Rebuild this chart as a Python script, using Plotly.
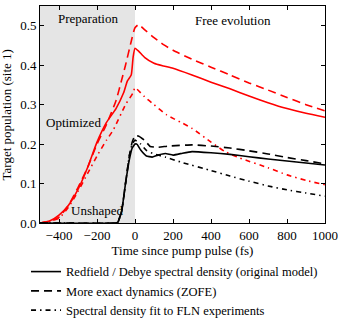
import plotly.graph_objects as go

# optimized pulse (red)
t_red_solid = [-500, -450, -400, -350, -300, -250, -200, -150, -100, -60, -40, -20, -10, 0,
               20, 50, 100, 150, 200, 300, 400, 500, 600, 700, 800, 900, 1000]
p_red_solid = [0, 0.005, 0.02, 0.045, 0.085, 0.14, 0.205, 0.255, 0.29, 0.33, 0.36, 0.375, 0.42, 0.443,
               0.435, 0.42, 0.405, 0.398, 0.392, 0.375, 0.357, 0.34, 0.322, 0.305, 0.29, 0.278, 0.268]

t_red_dash = [-500, -450, -400, -350, -300, -250, -200, -150, -100, -70, -50, -20, 0, 20,
              50, 100, 150, 200, 300, 400, 500, 600, 700, 800, 900, 1000]
p_red_dash = [0, 0.004, 0.015, 0.045, 0.09, 0.14, 0.2, 0.25, 0.31, 0.363, 0.4, 0.46, 0.495, 0.503,
              0.49, 0.47, 0.452, 0.438, 0.415, 0.395, 0.375, 0.355, 0.337, 0.318, 0.3, 0.284]

t_red_dd = [-500, -450, -400, -350, -300, -250, -200, -150, -114, -50, -10, 0,
            50, 100, 167, 250, 300, 400, 474, 550, 700, 800, 900, 1000]
p_red_dd = [0, 0.004, 0.012, 0.04, 0.08, 0.125, 0.17, 0.21, 0.236, 0.3, 0.33, 0.343,
            0.32, 0.3, 0.274, 0.253, 0.24, 0.205, 0.181, 0.165, 0.14, 0.122, 0.108, 0.097]

# unshaped pulse (black)
t_blk_solid = [-500, -100, -90, -70, -50, -30, -15, 0, 10, 30, 60, 90, 120, 160, 200, 250,
               300, 400, 500, 600, 700, 800, 900, 1000]
p_blk_solid = [0, 0, 0.002, 0.03, 0.1, 0.16, 0.19, 0.2, 0.2, 0.185, 0.17, 0.167, 0.172, 0.176, 0.172, 0.177,
               0.181, 0.178, 0.174, 0.168, 0.162, 0.157, 0.152, 0.147]

t_blk_dash = [-500, -100, -90, -70, -50, -30, -15, 0, 20, 50, 80, 120, 175,
              300, 400, 500, 600, 700, 800, 900, 1000]
p_blk_dash = [0, 0, 0.002, 0.03, 0.1, 0.17, 0.205, 0.222, 0.22, 0.21, 0.194, 0.192, 0.195,
              0.198, 0.195, 0.19, 0.183, 0.175, 0.166, 0.158, 0.15]

t_blk_dd = [-500, -100, -90, -70, -50, -30, -15, 0, 30, 60, 100, 160, 250,
            400, 500, 600, 700, 800, 900, 1000]
p_blk_dd = [0, 0, 0.002, 0.03, 0.1, 0.17, 0.2, 0.21, 0.2, 0.184, 0.175, 0.167, 0.153,
            0.133, 0.119, 0.106, 0.094, 0.084, 0.076, 0.068]

legend_names = ["Redfield / Debye spectral density (original model)",
                "More exact dynamics (ZOFE)",
                "Spectral density fit to FLN experiments"]

DASH = "8px,5px"
DASHDOT = "5px,4px,1.5px,4px"
W = 1.6

fig = go.Figure()

curves = [
    (t_red_solid, p_red_solid, "red", "solid", 0.5),
    (t_red_dash, p_red_dash, "red", DASH, 0.5),
    (t_red_dd, p_red_dd, "red", DASHDOT, 0.5),
    (t_blk_solid, p_blk_solid, "black", "solid", 0.3),
    (t_blk_dash, p_blk_dash, "black", DASH, 0.3),
    (t_blk_dd, p_blk_dd, "black", DASHDOT, 0.3),
]
for t, p, c, d, sm in curves:
    fig.add_trace(go.Scatter(x=t, y=p, mode="lines", showlegend=False,
                             line=dict(color=c, dash=d, width=W, shape="spline", smoothing=sm)))

# legend-only entries
for name, d in zip(legend_names, ["solid", DASH, DASHDOT]):
    fig.add_trace(go.Scatter(x=[None], y=[None], mode="lines", name=name,
                             line=dict(color="black", dash=d, width=W)))

fig.add_shape(type="rect", xref="x", yref="paper", x0=-500, x1=0, y0=0, y1=1,
              fillcolor="#e5e5e5", line_width=0, layer="below")

txt = dict(family="Liberation Serif", size=13, color="black")
fig.add_annotation(x=-250, y=0.518, text="Preparation", showarrow=False, font=txt)
fig.add_annotation(x=515, y=0.512, text="Free evolution", showarrow=False, font=txt)
fig.add_annotation(x=-326, y=0.256, text="Optimized", showarrow=False, font=txt)
fig.add_annotation(x=-200, y=0.032, text="Unshaped", showarrow=False, font=txt)
# y-axis title
fig.add_annotation(xref="paper", yref="paper", x=-0.116, y=0.5, textangle=-90,
                   text="Target population (site 1)", showarrow=False, font=txt,
                   xanchor="center", yanchor="middle")

axis_common = dict(showgrid=False, zeroline=False, ticks="inside", ticklen=4,
                   mirror="ticks", showline=True, linecolor="black", linewidth=1,
                   tickcolor="black", tickfont=txt, automargin=False)

fig.update_layout(
    width=338, height=320,
    margin=dict(l=40, r=13, t=6, b=97, autoexpand=False),
    plot_bgcolor="white", paper_bgcolor="white",
    font=txt,
    xaxis=dict(range=[-500, 1000], tickvals=[-400, -200, 0, 200, 400, 600, 800, 1000],
               title=dict(text="Time since pump pulse (fs)", standoff=2, font=txt),
               **axis_common),
    yaxis=dict(range=[0, 0.55], tickvals=[0, 0.1, 0.2, 0.3, 0.4, 0.5], tickformat=".1f",
               **axis_common),
    legend=dict(xref="container", yref="container", x=0.077, y=0.197,
                xanchor="left", yanchor="top",
                font=dict(family="Liberation Serif", size=12.5, color="black"),
                bgcolor="rgba(0,0,0,0)", tracegroupgap=0, itemwidth=30),
)

# drop the browser's default 8px body margin so the figure sits at the window corner
fig.write_html("out.html", config={"displayModeBar": False},
               post_script="document.body.style.margin='0';")
